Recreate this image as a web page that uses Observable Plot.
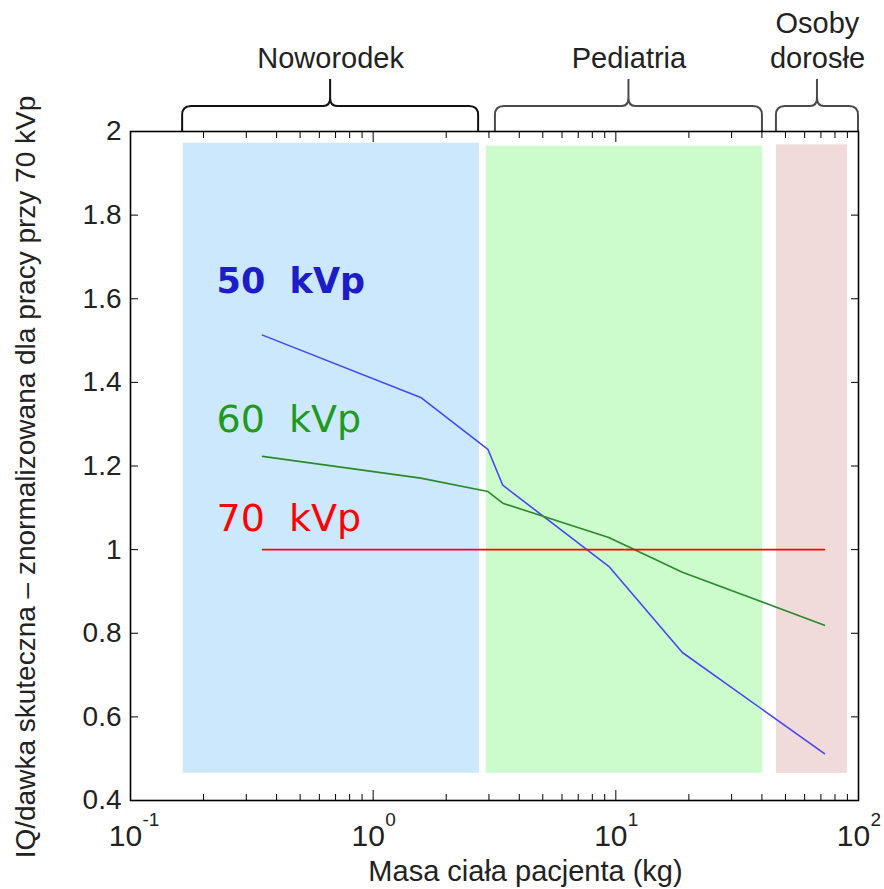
<!DOCTYPE html>
<html><head><meta charset="utf-8">
<script src="https://cdn.jsdelivr.net/npm/d3@7"></script>
<script src="https://cdn.jsdelivr.net/npm/@observablehq/plot@0.6"></script>
<style>
body{margin:0;background:#fff;}
svg{display:block;font-family:Arial,"Liberation Sans",sans-serif;}
</style>
</head><body><div id="chart"></div>
<script>
// ---- data ----
const mass  = [0.35, 1.57, 2.97, 3.42, 9.35, 18.8, 72.4];
const kvp50 = [1.513, 1.364, 1.240, 1.154, 0.960, 0.754, 0.512];
const kvp60 = [1.223, 1.171, 1.139, 1.111, 1.029, 0.946, 0.819];
const kvp70 = [1, 1, 1, 1, 1, 1, 1];
const seriesNames = ["50\u00a0\u00a0kVp", "60\u00a0\u00a0kVp", "70\u00a0\u00a0kVp"];

const groups      = ["Noworodek", "Pediatria", "Osoby\ndorosłe"];
const bandStart   = [0.165, 2.93, 45.9];
const bandEnd     = [2.74, 40.2, 90];
const bandTop     = [1.972, 1.965, 1.968];
const bandBottom  = [0.465, 0.465, 0.465];
const braceStart  = [0.164, 3.19, 45.9];
const braceEnd    = [2.72, 40.2, 100];

const yTicks      = [0.4, 0.6, 0.8, 1, 1.2, 1.4, 1.6, 1.8, 2];
const decades     = [0.1, 1, 10, 100];
const exponents   = ["-1", "0", "1", "2"];
const minorTicks  = [0.1, 1, 10].flatMap(d => [2,3,4,5,6,7,8,9].map(k => d * k));

const xTitle = "Masa ciała pacjenta (kg)";
const yTitle = "IQ/dawka skuteczna – znormalizowana dla pracy przy 70 kVp";

// ---- styles ----
const lineColors = ["#4848ee", "#2a8a2a", "#ff0000"];
const textColors = ["#1c1cc8", "#1f9a1f", "#ff0000"];
const textWeights = ["bold", "normal", "normal"];
const textSizes = [35, 38, 38];
const labelDy = [-42, -24, -19];
const bandColors = ["#cce8fc", "#ccfccc", "#f0dada"];

const seriesValues = [kvp50, kvp60, kvp70];
const series = seriesNames.map((name, i) => mass.map((m, j) => ({name, mass: m, value: seriesValues[i][j]})));
const bands = groups.map((g, i) => ({g, x1: bandStart[i], x2: bandEnd[i], y1: bandBottom[i], y2: bandTop[i], color: bandColors[i]}));
const braceRows = groups.map((g, i) => ({g, x1: braceStart[i], x2: braceEnd[i], xm: Math.sqrt(braceStart[i] * braceEnd[i])}));

function braces(index, scales, values, dimensions) {
  const g = d3.create("svg:g").attr("fill", "none").attr("stroke-width", 2).attr("stroke-linejoin", "round");
  const y0 = dimensions.marginTop + 1;
  const yh = y0 - 26, yt = y0 - 53, r = 9;
  braceRows.forEach((b, i) => {
    const x1 = scales.x(b.x1), x2 = scales.x(b.x2), xm = (x1 + x2) / 2;
    const p = d3.path();
    p.moveTo(x1, y0); p.lineTo(x1, yh + r); p.quadraticCurveTo(x1, yh, x1 + r, yh);
    p.lineTo(xm - 7, yh); p.quadraticCurveTo(xm, yh, xm, yh - 8); p.lineTo(xm, yt);
    p.moveTo(xm, yh - 8); p.quadraticCurveTo(xm, yh, xm + 7, yh);
    p.lineTo(x2 - r, yh); p.quadraticCurveTo(x2, yh, x2, yh + r); p.lineTo(x2, y0);
    g.append("path").attr("d", p.toString()).attr("stroke", i === 0 ? "#111" : "#4a4a4a");
  });
  return g.node();
}

const chart = Plot.plot({
  width: 884,
  height: 889,
  marginLeft: 130,
  marginRight: 26,
  marginTop: 131,
  marginBottom: 89,
  style: {background: "#fff", overflow: "visible", fontFamily: 'Arial, "Liberation Sans", sans-serif'},
  x: {type: "log", domain: [0.1, 100], label: null},
  y: {domain: [0.4, 2], label: null},
  color: {type: "identity"},
  marks: [
    Plot.rect(bands, {x1: "x1", x2: "x2", y1: "y1", y2: "y2", fill: "color"}),
    ...series.map((rows, i) => Plot.line(rows, {x: "mass", y: "value", stroke: lineColors[i], strokeWidth: 1.6})),
    ...series.map((rows, i) => Plot.text([rows[0]], {
      x: "mass", y: "value", text: "name", textAnchor: "start", lineAnchor: "bottom",
      dx: -46, dy: labelDy[i], fontSize: textSizes[i], fontFamily: '"DejaVu Sans", Verdana, sans-serif',
      fontWeight: textWeights[i], fill: textColors[i]
    })),
    // y axis ticks & labels
    Plot.axisY({anchor: "left", ticks: yTicks, tickSize: -8, tickPadding: 17, tickFormat: d3.format("~g"), fontSize: 28, stroke: "#000", fill: "#222"}),
    Plot.axisY({anchor: "right", ticks: yTicks, tickSize: -8, fill: "none", stroke: "#000"}),
    // x axis ticks
    Plot.axisX({anchor: "bottom", ticks: decades, tickSize: -10, fill: "none", stroke: "#000"}),
    Plot.axisX({anchor: "bottom", ticks: minorTicks, tickSize: -6, fill: "none", stroke: "#000"}),
    Plot.axisX({anchor: "top", ticks: decades, tickSize: -10, fill: "none", stroke: "#000"}),
    Plot.axisX({anchor: "top", ticks: minorTicks, tickSize: -6, fill: "none", stroke: "#000"}),
    // x tick labels: 10 with superscript exponent
    Plot.axisX({anchor: "bottom", ticks: decades, tickSize: 0, tickPadding: 24, tickFormat: () => "10", fontSize: 30, dx: -5, fill: "#222"}),
    Plot.text(decades, {x: d => d, text: (d, i) => exponents[i], frameAnchor: "bottom", textAnchor: "start", lineAnchor: "bottom", dx: 12, dy: 25, fontSize: 19, fill: "#222"}),
    // titles
    Plot.text([xTitle], {frameAnchor: "bottom", text: d => d, dx: 31, dy: 80, lineAnchor: "bottom", fontSize: 29, fill: "#222"}),
    Plot.text([yTitle], {frameAnchor: "left", text: d => d, rotate: -90, textAnchor: "middle", dx: -104, dy: 11, lineAnchor: "middle", fontSize: 28, fill: "#222"}),
    // group braces and labels
    braces,
    Plot.text(braceRows, {x: "xm", text: "g", frameAnchor: "top", lineAnchor: "bottom", dy: -64, lineHeight: 1.2, fontSize: 29, fill: "#222"}),
    Plot.frame({stroke: "#000", strokeWidth: 1.6})
  ]
});
document.getElementById("chart").appendChild(chart);
</script>
</body></html>
